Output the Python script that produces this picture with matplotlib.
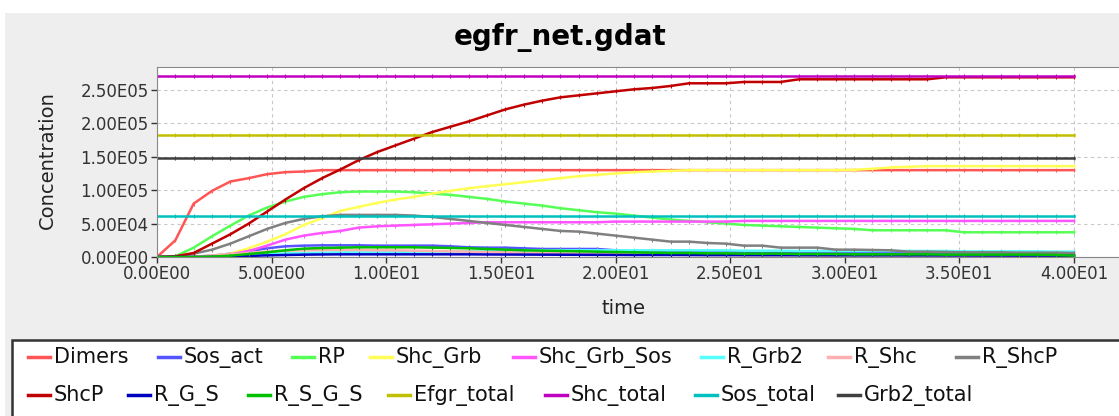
import numpy as np
import matplotlib
matplotlib.use('Agg')
import matplotlib.pyplot as plt
from matplotlib.patches import Rectangle
from matplotlib.lines import Line2D
from matplotlib.ticker import FuncFormatter

# --- DATA (values in thousands) ---
time = np.linspace(0, 40, 51)   # output every 0.8 time units

dimers = [0, 25, 80, 99, 113, 118, 124, 127, 128, 130] + [130] * 41
sos_act = [0, 0, 0.5, 2, 5, 9, 13, 16, 17, 17.5, 17.5, 17.5, 17, 17, 17, 17, 16,
           14.5, 14, 14, 13, 12, 12, 12, 12, 10, 9, 9, 9, 9, 9, 9, 7, 6.5, 6.5,
           6.5, 6.5, 6.5, 6.5, 6.5, 6.5, 6.5, 6.5, 6.5, 6.5, 6.5, 6.5, 6.5, 6.5, 6, 1]
rp = [0, 1, 14, 31, 47, 62, 74, 83, 90, 94, 97, 98, 98, 98, 97, 95, 93, 90, 87, 83,
      80, 77, 73, 70, 67, 65, 62, 59, 56, 54, 52, 50, 48, 47, 46, 45, 44, 43, 42, 40,
      40, 40, 40, 40, 37, 37, 37, 37, 37, 37, 37]
shc_grb = [0, 0, 0.5, 2, 5, 13, 23, 34, 48, 58, 69, 75, 81, 86, 90, 95, 99, 103, 106,
           109, 112, 115, 118, 121, 123, 125, 127, 128, 129, 130, 130, 130, 130, 130,
           130, 130, 130, 130, 130.5, 132, 134, 135, 136, 136, 136, 136, 136, 136, 136, 136, 136]
shc_grb_sos = [0, 0, 0.3, 1.5, 4, 9, 17, 26, 32, 36, 39, 44, 46, 47, 48, 49, 50, 51, 52,
               52, 52, 52, 52, 52, 52, 53, 53, 53, 53, 53, 53, 53, 54, 54, 54, 54, 54,
               54, 54, 54, 54, 54, 54, 54, 54, 54, 54, 54, 54, 54, 54]
r_grb2 = [0, 0, 0, 0.5, 1.5, 3, 4.5, 5.5, 6, 6.5, 7, 7, 7.5, 7.5, 8, 8, 8, 8.5, 9.5,
          10, 10, 10, 10, 10, 10, 10, 10, 10, 10, 10, 10, 10, 9.5, 9.5, 9.5, 9, 9, 9,
          9, 9, 9, 9, 9, 9, 8.5, 8.5, 8.5, 8.5, 8.5, 8, 8]
r_shc = [0, 0, 0.5, 2, 4, 6, 8, 9.5, 10, 10.5, 10.5, 10.5, 10, 10, 9.5, 9, 8.5, 8, 7.5,
         7, 6.5, 6, 5.5, 5, 4.5, 4, 4, 3.5, 3.5, 3, 3, 3, 2.5, 2.5, 2.5, 2.5, 2, 2, 2,
         2, 2, 2, 2, 2, 2, 2, 1.5, 1.5, 1.5, 1.5, 1.5]
r_shcp = [0, 0.5, 5, 11, 20, 31, 42, 51, 57, 61, 63, 63, 63, 63, 62, 60, 57, 54, 51, 48,
          45, 42, 39, 38, 35, 32, 29, 26, 23, 23, 21, 20, 17, 17, 14, 14, 14, 11, 11,
          10.5, 10, 8, 8, 7.5, 7, 7, 7, 6.5, 6.5, 6.5, 6]
shcp = [0, 1, 6, 20, 34, 50, 68, 86, 103, 118, 131, 145, 157, 167, 177, 187, 195, 203,
        212, 221, 228, 234, 239, 242, 245, 248, 251, 253, 256, 260, 260, 260, 262, 262,
        262, 266, 266, 266, 266, 266, 266, 266, 266, 269, 269, 269, 269, 269, 269, 269, 269]
r_g_s = [0, 0, 0, 0.2, 0.8, 1.5, 2.5, 3, 3.5, 3.8, 4, 4, 4, 4, 4, 4, 4, 4, 3.8, 3.7,
         3.6, 3.5, 3.4, 3.3, 3.2, 3.1, 3, 3, 3, 3, 2.8, 2.8, 2.8, 2.7, 2.7, 2.6, 2.6,
         2.5, 2.5, 2.5, 2.5, 2.4, 2.4, 2.3, 2.3, 2.2, 2.2, 2.1, 2.1, 2, 2]
r_s_g_s = [0, 0, 0, 0.5, 2, 4.5, 7, 10, 12.5, 13.5, 14, 14.5, 14.5, 14.5, 14.5, 14, 13.5,
           13, 12, 11, 10, 9.5, 9, 8.5, 8, 7.5, 7, 6.5, 6, 6, 5.5, 5.5, 5, 5, 5, 4.5,
           4.5, 4.5, 4, 4, 4, 4, 4, 3.5, 3.5, 3.5, 3.5, 3.5, 3.5, 3, 2]
efgr_total = [182] * 51
shc_total = [271] * 51
sos_total = [62] * 51
grb2_total = [148.5] * 51

names = ['Dimers', 'Sos_act', 'RP', 'Shc_Grb', 'Shc_Grb_Sos', 'R_Grb2', 'R_Shc', 'R_ShcP',
         'ShcP', 'R_G_S', 'R_S_G_S', 'Efgr_total', 'Shc_total', 'Sos_total', 'Grb2_total']
series = [dimers, sos_act, rp, shc_grb, shc_grb_sos, r_grb2, r_shc, r_shcp,
          shcp, r_g_s, r_s_g_s, efgr_total, shc_total, sos_total, grb2_total]
colors = ['#FF5555', '#5555FF', '#55FF55', '#FFFF55', '#FF55FF', '#55FFFF', '#FFAFAF',
          '#808080', '#C00000', '#0000C0', '#00C000', '#C0C000', '#C000C0', '#00C0C0',
          '#404040']

# legend layout (pixel x of each label, pixel y of each row)
legend_x = [54, 184, 318, 396, 539, 727, 854, 982,
            54, 154, 274, 414, 571, 721, 864]
legend_y = [357] * 8 + [395] * 7

W, H = 1119, 416
fig = plt.figure(figsize=(W / 100, H / 100), dpi=100)
fig.patch.set_facecolor('white')

# grey chart panel
fig.patches.append(Rectangle((5 / W, 0), 1, 1 - 13 / H, transform=fig.transFigure,
                             facecolor='#EEEEEE', edgecolor='none', zorder=-10))
# legend box
fig.patches.append(Rectangle((12 / W, -0.1), 1.1, 0.1 + (H - 340) / H,
                             transform=fig.transFigure, facecolor='white',
                             edgecolor='#333333', linewidth=1.8, zorder=-5))

ax = fig.add_axes([157 / W, (H - 257) / H, (W - 157) / W, 190 / H])
ax.set_facecolor('white')

for vals, c in zip(series, colors):
    ax.plot(time, np.array(vals) * 1000, color=c, linewidth=1.8,
            marker='|', markersize=3.5, markeredgewidth=0.8)

ax.set_xlim(0, (W - 157) / 22.925)
ax.set_ylim(0, 2.844e5)
ax.set_xticks(np.arange(0, 41, 5))
ax.set_yticks(np.arange(0, 2.6e5, 5e4))

def sci(v, pos):
    m, e = f"{v:.2E}".split('E')
    return f"{m}E{int(e):02d}"

ax.xaxis.set_major_formatter(FuncFormatter(sci))
ax.yaxis.set_major_formatter(FuncFormatter(sci))
ax.tick_params(labelsize=12, colors='#333333', length=4, width=1, pad=2)
ax.grid(True, linestyle=(0, (3, 3)), color='#C8C8C8', linewidth=0.8)
for s in ['top', 'left', 'bottom']:
    ax.spines[s].set_color('#888888')
ax.spines['right'].set_visible(False)

fig.text(560 / W, 1 - 38 / H, 'egfr_net.gdat', ha='center', va='center',
         fontsize=20, fontweight='bold')
fig.text(47 / W, 1 - 160 / H, 'Concentration', rotation=90, ha='center',
         va='center', fontsize=14, color='#222222')
fig.text(623 / W, 1 - 308 / H, 'time', ha='center', va='center', fontsize=14,
         color='#222222')

# legend entries: short thick line + label, laid out like the reference
for name, c, lx, ly in zip(names, colors, legend_x, legend_y):
    yf = 1 - ly / H
    fig.add_artist(Line2D([(lx - 26) / W, (lx - 4) / W], [yf, yf], color=c,
                          linewidth=2.5, transform=fig.transFigure))
    fig.text(lx / W, yf, name, ha='left', va='center', fontsize=15,
             color='#111111')

fig.savefig('out.png', dpi=100)
